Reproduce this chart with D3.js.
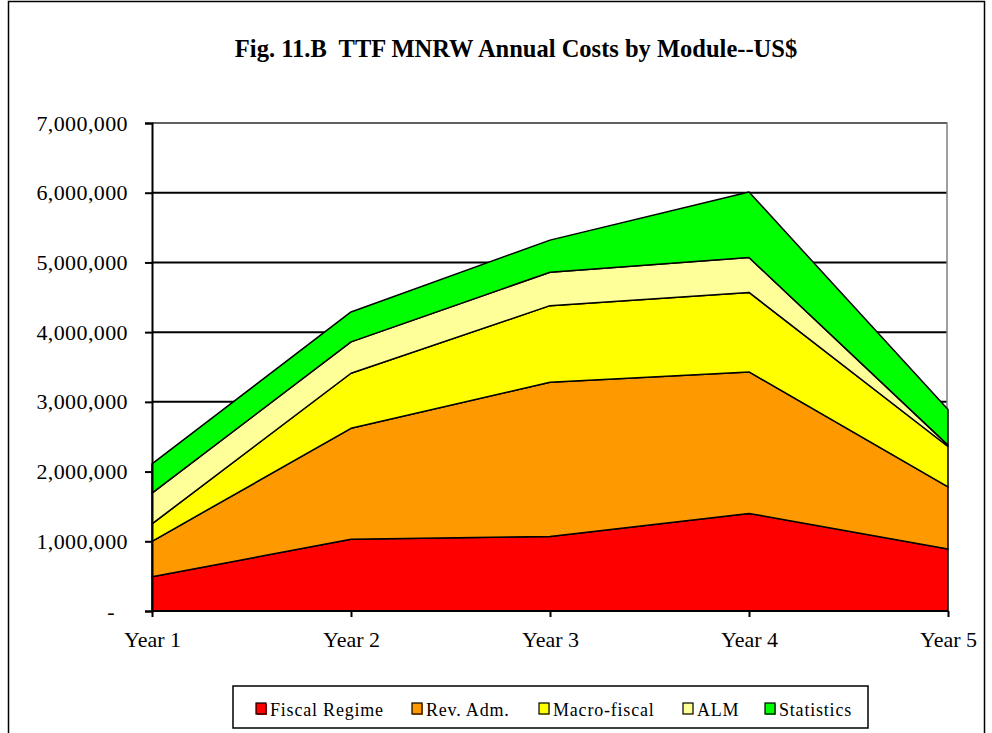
<!DOCTYPE html>
<html>
<head>
<meta charset="utf-8">
<script src="https://cdn.jsdelivr.net/npm/d3@7"></script>
<style>
  body { margin: 0; background: #fff; }
  text { font-family: "Liberation Serif", "Times New Roman", serif; }
</style>
</head>
<body>
<svg width="992" height="733"></svg>
<script>
const width = 992;
const height = 733;

// ---- data (US$) ----
const years = ["Year 1", "Year 2", "Year 3", "Year 4", "Year 5"];
const modules = ["Fiscal Regime", "Rev. Adm.", "Macro-fiscal", "ALM", "Statistics"];
const fiscalRegime = [490000, 1030000, 1070000, 1400000, 890000];
const revAdm = [510000, 1590000, 2210000, 2030000, 890000];
const macroFiscal = [250000, 790000, 1100000, 1140000, 580000];
const alm = [440000, 450000, 480000, 500000, 20000];
const statistics = [420000, 430000, 460000, 940000, 510000];
const yTicks = [0, 1000000, 2000000, 3000000, 4000000, 5000000, 6000000, 7000000];
const colors = ["#ff0000", "#ff9900", "#ffff00", "#ffff99", "#00ff00"];

const seriesValues = [fiscalRegime, revAdm, macroFiscal, alm, statistics];
const table = years.map((y, i) => {
    const row = { year: y };
    modules.forEach((m, j) => { row[m] = seriesValues[j][i]; });
    return row;
});

const svg = d3.select("svg");

// outer frame
svg.append("rect")
    .attr("x", 8.5).attr("y", 1.5)
    .attr("width", 976).attr("height", 760)
    .attr("fill", "none")
    .attr("stroke", "#000")
    .attr("stroke-width", 1.5);

svg.append("text")
    .attr("x", 516)
    .attr("y", 57)
    .attr("text-anchor", "middle")
    .style("font-size", "24.5px")
    .style("font-weight", "bold")
    .style("white-space", "pre")
    .text("Fig. 11.B  TTF MNRW Annual Costs by Module--US$");

const x = d3.scalePoint().domain(years).range([152, 948]);
const y = d3.scaleLinear().domain([0, 7000000]).range([611, 123]);

// gridlines
svg.append("g")
    .selectAll("line")
    .data(yTicks.slice(1))
    .enter().append("line")
    .attr("x1", 152).attr("x2", 947)
    .attr("y1", d => y(d)).attr("y2", d => y(d))
    .attr("stroke", "#000")
    .attr("stroke-width", 2);

// plot frame (top / right in grey)
svg.append("path")
    .attr("d", `M152,${y(7000000)}H947V${y(0)}`)
    .attr("fill", "none")
    .attr("stroke", "#808080")
    .attr("stroke-width", 1.5);

const stack = d3.stack().keys(modules);
const layers = stack(table);

const area = d3.area()
    .x(d => x(d.data.year))
    .y0(d => y(d[0]))
    .y1(d => y(d[1]));

svg.append("g")
    .selectAll("path")
    .data(layers)
    .enter().append("path")
    .attr("d", area)
    .attr("fill", (d, i) => colors[i])
    .attr("stroke", "#000")
    .attr("stroke-width", 1.5)
    .attr("stroke-linejoin", "round");

// y axis
const yAxis = svg.append("g")
    .attr("transform", "translate(152,0)")
    .call(d3.axisLeft(y).tickValues(yTicks).tickSize(7).tickPadding(17)
        .tickFormat(d => d === 0 ? "-" : d3.format(",")(d)));
yAxis.select(".domain").attr("stroke-width", 2);
yAxis.selectAll(".tick line").attr("stroke-width", 2);
yAxis.selectAll("text")
    .style("font-size", "22px")
    .style("letter-spacing", "0.4px")
    .attr("fill", "#000")
    .attr("dx", d => d === 0 ? -13 : 0);

// x axis
const xAxis = svg.append("g")
    .attr("transform", `translate(0,${y(0)})`)
    .call(d3.axisBottom(x).tickSize(6).tickPadding(14));
xAxis.select(".domain").attr("stroke-width", 2).attr("d", `M152,0H948`);
xAxis.selectAll(".tick line").attr("stroke-width", 2);
xAxis.selectAll("text").style("font-size", "22px").attr("fill", "#000");

// legend
svg.append("rect")
    .attr("x", 233).attr("y", 686)
    .attr("width", 635).attr("height", 42)
    .attr("fill", "#fff")
    .attr("stroke", "#000")
    .attr("stroke-width", 1.5);

const legendX = [256, 412, 539, 683, 765];
const legend = svg.append("g")
    .selectAll("g")
    .data(modules)
    .enter().append("g")
    .attr("transform", (d, i) => `translate(${legendX[i]},703)`);

legend.append("rect")
    .attr("x", 1).attr("y", 1)
    .attr("width", 10).attr("height", 11)
    .attr("fill", (d, i) => colors[i]);
legend.append("rect")
    .attr("width", 10).attr("height", 11)
    .attr("fill", (d, i) => colors[i])
    .attr("stroke", "#000")
    .attr("stroke-width", 1.2);
legend.append("text")
    .attr("x", 14)
    .attr("y", 13)
    .style("font-size", "18px")
    .style("letter-spacing", "0.8px")
    .text(d => d);
</script>
</body>
</html>
